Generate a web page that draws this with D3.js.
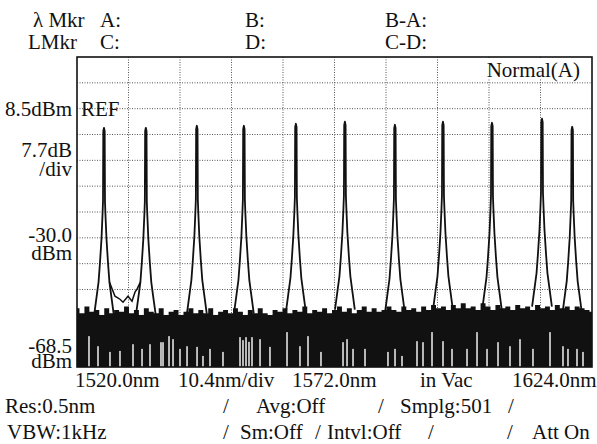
<!DOCTYPE html>
<html><head><meta charset="utf-8">
<script src="https://cdn.jsdelivr.net/npm/d3@7"></script>
<style>
html,body{margin:0;padding:0;background:#fff;}
svg text{font-family:"Liberation Serif","Times New Roman",Times,"DejaVu Serif",serif;font-size:21px;fill:#111;}
</style></head>
<body><svg id="c" width="597" height="444"></svg>
<script>
// ---- data ----
const xDomain = [1520.0, 1624.0];           // nm
const xDiv = 10.4;                          // nm/div
const refLevel = 8.5;                       // dBm
const yDiv = 7.7;                           // dB/div
const yBottom = -68.5;                      // dBm
const yTop = 23.9;                          // top of screen (REF + 2 div)

const peakNm  = [1525.45, 1533.9, 1544.2, 1553.7, 1564.2, 1574.1, 1584.2, 1593.9, 1603.8, 1613.9, 1620.0];
const peakDbm = [2.8, 2.8, 3.4, 3.4, 4.0, 4.6, 3.7, 4.6, 4.3, 5.5, 3.1];

// common line shape of a peak: offset from centre (nm) vs drop below peak (dB)
const profileOffset = [0, 0.14, 0.2, 0.3, 0.5, 0.8, 1.1, 1.55, 2.0];
const profileDrop   = [0, 1, 22, 26, 33, 40, 46, 51, 56];

// wavy trace between the first two channels
const bumpNm  = [1526.55, 1527.67, 1528.68, 1529.29, 1530.30, 1531.11, 1531.71, 1532.12, 1532.8];
const bumpDbm = [-43.2, -47.4, -48.3, -49.2, -47.4, -48.9, -46.2, -45.3, -43.2];

// top of the noise floor, one value per nm from 1520 nm
const noiseStartNm = 1520, noiseStepNm = 1;
const noiseDbm = [-51.0,-52.5,-50.5,-52.0,-51.5,-53.0,-51.0,-52.5,-51.5,-52.0,
  -50.5,-52.5,-51.5,-53.0,-51.0,-52.0,-52.5,-51.0,-53.0,-52.0,
  -51.5,-53.0,-52.0,-51.0,-52.5,-51.5,-52.5,-51.0,-53.0,-52.0,
  -51.5,-52.5,-51.0,-52.0,-53.0,-51.5,-52.5,-51.0,-52.5,-53.0,
  -51.5,-52.0,-51.0,-52.5,-51.5,-52.0,-50.5,-52.5,-51.5,-52.0,
  -51.0,-52.5,-51.5,-50.5,-52.0,-51.0,-52.5,-51.5,-50.5,-52.0,
  -51.0,-52.0,-51.5,-50.5,-51.5,-52.0,-50.5,-51.5,-51.0,-52.0,
  -50.5,-51.5,-50.0,-51.0,-50.5,-51.5,-50.0,-51.0,-49.5,-51.0,
  -50.5,-51.5,-49.5,-50.5,-51.5,-50.0,-51.0,-50.5,-51.5,-50.0,
  -51.0,-50.5,-51.5,-50.0,-51.0,-50.5,-51.5,-50.0,-51.0,-50.5,
  -51.5,-50.5,-51.0,-51.5,-52.0];

// gaps (deep dips) inside the noise floor
const dipNm  = [1522.42,1524.24,1526.66,1528.68,1531.31,1533.13,1534.74,1536.96,1537.37,1538.58,1539.39,1540.80,1542.22,1544.24,1545.44,1546.86,1549.48,1552.92,1553.52,1554.13,1554.73,1555.34,1556.96,1558.97,1562.41,1565.03,1566.65,1569.27,1573.72,1574.53,1575.74,1578.16,1582.80,1584.22,1585.63,1588.66,1589.87,1591.69,1593.91,1595.73,1598.76,1600.78,1602.80,1605.02,1607.44,1609.46,1612.08,1615.52,1618.14,1619.15,1620.97,1622.18];
const dipDbm = [-59.3,-62.3,-64.0,-63.7,-61.7,-63.1,-61.7,-61.1,-61.1,-59.3,-60.2,-63.1,-62.3,-62.5,-65.2,-63.1,-64.0,-59.6,-60.5,-59.6,-61.0,-59.6,-60.2,-62.5,-58.1,-62.3,-59.3,-64.0,-61.1,-60.2,-63.1,-63.1,-64.0,-63.1,-65.2,-60.8,-61.1,-58.1,-60.8,-63.1,-63.1,-58.1,-63.1,-61.1,-62.3,-60.2,-63.1,-58.1,-62.3,-63.1,-63.1,-64.0];

const headerRow1 = ["λ Mkr", "A:", "B:", "B-A:"];
const headerRow2 = ["LMkr", "C:", "D:", "C-D:"];
const yLabels = [["8.5dBm"], ["7.7dB", "/div"], ["-30.0", "dBm"], ["-68.5", "dBm"]];
const xLabels = ["1520.0nm", "10.4nm/div", "1572.0nm", "in Vac", "1624.0nm"];
const status1 = ["Res:0.5nm", "/", "Avg:Off", "/", "Smplg:501", "/"];
const status2 = ["VBW:1kHz", "/", "Sm:Off", "/", "Intvl:Off", "/", "/", "Att On"];

// ---- layout ----
const FONT = "'Liberation Serif','Times New Roman',Times,'DejaVu Serif',serif";
const L = 77, R = 592, T = 57, B = 367;
const svg = d3.select("#c");
const x = d3.scaleLinear().domain(xDomain).range([L, R]);
const y = d3.scaleLinear().domain([yBottom, yTop]).range([B, T]);

svg.append("defs").append("clipPath").attr("id", "clip")
  .append("rect").attr("x", L).attr("y", T).attr("width", R - L).attr("height", B - T);

// grid
const xGrid = d3.range(1, 10).map(i => xDomain[0] + i * xDiv);
const yGrid = d3.range(1, 12).map(i => yBottom + i * yDiv);
const g = svg.append("g");
g.selectAll(".vg").data(xGrid).join("line")
  .attr("x1", d => x(d)).attr("x2", d => x(d)).attr("y1", T).attr("y2", B)
  .attr("stroke", "#555").attr("stroke-width", 1).attr("stroke-dasharray", "1,1.5");
g.selectAll(".hg").data(yGrid).join("line")
  .attr("x1", L).attr("x2", R).attr("y1", d => y(d)).attr("y2", d => y(d))
  .attr("stroke", "#555").attr("stroke-width", 1).attr("stroke-dasharray", "1,1.5");

const plot = svg.append("g").attr("clip-path", "url(#clip)");

// noise floor band
const noise = noiseDbm.map((v, i) => [noiseStartNm + i * noiseStepNm, v]);
plot.append("path").datum(noise)
  .attr("d", d3.area().x(d => x(d[0])).y0(y(yBottom) + 2).y1(d => y(d[1])).curve(d3.curveStep))
  .attr("fill", "#111");

// dips
plot.selectAll(".dip").data(dipNm.map((n, i) => [n, dipDbm[i]])).join("rect")
  .attr("x", d => x(d[0]) - 0.7).attr("width", 1.4)
  .attr("y", d => y(d[1])).attr("height", d => y(yBottom) - y(d[1]))
  .attr("fill", "#fff");

// peaks
const line = d3.line().x(d => x(d[0])).y(d => y(d[1]));
function noiseAt(n) {
  const i = Math.max(0, Math.min(noiseDbm.length - 1, Math.round((n - noiseStartNm) / noiseStepNm)));
  return noiseDbm[i];
}
peakNm.forEach((c, k) => {
  const p = peakDbm[k];
  const floor = noiseAt(c) - 2;
  const pts = [];
  for (let i = profileOffset.length - 1; i >= 0; i--) pts.push([c - profileOffset[i], Math.max(p - profileDrop[i], floor)]);
  for (let i = 1; i < profileOffset.length; i++) pts.push([c + profileOffset[i], Math.max(p - profileDrop[i], floor)]);
  plot.append("path").datum(pts).attr("d", line)
    .attr("fill", "none").attr("stroke", "#111").attr("stroke-width", 1.8).attr("stroke-linejoin", "round");
});
plot.append("path").datum(bumpNm.map((n, i) => [n, bumpDbm[i]])).attr("d", line)
  .attr("fill", "none").attr("stroke", "#111").attr("stroke-width", 1.5);

// frame
svg.append("rect").attr("x", L).attr("y", T).attr("width", R - L).attr("height", B - T)
  .attr("fill", "none").attr("stroke", "#111").attr("stroke-width", 1.6);

// texts
const txt = (s, tx, ty, anchor) => svg.append("text").attr("x", tx).attr("y", ty)
  .attr("font-family", FONT).attr("font-size", 21)
  .attr("text-anchor", anchor || "start").text(s);

const hx = [33, 100, 245, 385];
headerRow1.forEach((s, i) => txt(s, hx[i], 27));
const hx2 = [28, 100, 245, 385];
headerRow2.forEach((s, i) => txt(s, hx2[i], 49));

// Normal(A)
svg.append("rect").attr("x", 484).attr("y", 58).attr("width", 98).attr("height", 21).attr("fill", "#fff");
txt("Normal(A)", 580, 77, "end");
txt("REF", 81, y(refLevel) + 7);

// y labels
const yLabY = [[y(refLevel) + 7], [157, 176], [y(-30.0) + 4, 260], [353, 368]];
yLabels.forEach((arr, i) => arr.forEach((s, j) => txt(s, 72, yLabY[i][j], "end")));

// x labels
const xLabX = [75, 178, 292, 420, 512];
xLabels.forEach((s, i) => txt(s, xLabX[i], 387));

const s1x = [5, 223, 256, 378, 400, 508];
status1.forEach((s, i) => txt(s, s1x[i], 413));
const s2x = [7, 223, 240, 315, 327, 428, 507, 532];
status2.forEach((s, i) => txt(s, s2x[i], 439));
</script></body></html>
